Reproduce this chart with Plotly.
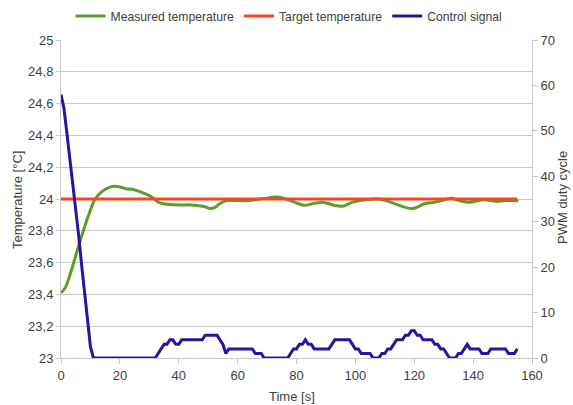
import plotly.graph_objects as go

# Measured temperature (°C)
temp_time = [0, 1.4, 3, 4.8, 6.4, 8.1, 9.8, 11.3, 13.5, 16.6, 18.3, 20, 22, 24.4, 27, 30.2, 33.6, 37, 40.3, 44, 47.1,
             48.8, 50.5, 52.2, 53.9, 56.2, 58.3, 61, 64, 67.5, 70, 73, 76.5, 79.3, 82.7, 85.5, 88.9, 92.9,
             95.7, 99.1, 103.6, 107.6, 110.4, 114.9, 118.9, 120.6, 123.4, 126.8, 129.5, 132.4, 135.3, 138.6,
             143.7, 147.7, 151.1, 154.5, 155.3]
temp_meas = [23.41, 23.44, 23.52, 23.63, 23.73, 23.83, 23.92, 23.99, 24.04, 24.075, 24.08, 24.075, 24.065, 24.06,
             24.045, 24.02, 23.975, 23.965, 23.962, 23.963, 23.958,
             23.952, 23.94, 23.945, 23.97, 23.99, 23.99, 23.99, 23.99, 24.0, 24.005, 24.012, 24.0, 23.98, 23.96,
             23.97, 23.98, 23.96, 23.955, 23.98, 23.995, 24.0, 23.99, 23.96, 23.94, 23.945, 23.97, 23.98,
             23.99, 24.005, 23.99, 23.98, 23.995, 23.985, 23.99, 23.99, 23.985]

# Target temperature (°C)
target_time = [0, 155]
target_temp = [24.0, 24.0]

# PWM control signal (duty cycle), one sample per second from t = 0 to 155
pwm_time = list(range(156))
pwm = [58, 55, 49.5, 44, 38.5, 33, 27, 20.5, 14, 8, 2.5, 0,
       0, 0, 0, 0, 0, 0, 0, 0, 0, 0, 0, 0, 0, 0, 0, 0, 0, 0, 0, 0, 0,
       1, 2, 3, 3, 4, 4, 3, 3, 4, 4, 4, 4, 4, 4, 4, 4,
       5, 5, 5, 5, 5, 4, 3, 1, 2, 2, 2, 2, 2, 2, 2, 2, 2, 1, 1, 1,
       0, 0, 0, 0, 0, 0, 0, 0, 0, 1, 2, 2, 3, 3, 4, 3, 3, 2, 2, 2, 2, 2, 2,
       3, 4, 4, 4, 4, 4, 4, 3, 2, 2, 1, 1, 1, 1, 0, 0, 0, 1, 1, 2, 2, 3,
       4, 4, 4, 5, 5, 6, 6, 5, 5, 4, 4, 4, 4, 3, 3, 2, 2, 1, 0, 0, 0,
       1, 1, 2, 3, 2, 2, 2, 2, 1, 1, 1, 2, 2, 2, 2, 2, 2, 1, 1, 1, 2]

left_ticks = [23 + 0.2 * i for i in range(11)]
right_ticks = list(range(0, 71, 10))
x_ticks = list(range(0, 161, 20))

GREEN = "#5c9e2a"
RED = "#ff4520"
BLUE = "#2b12a0"
GRID = "#c8c8c8"
TXT = "#404040"

W, H = 573, 405
L, T, R, B = 61, 40, 573 - 532, 405 - 358
PW, PH = W - L - R, H - T - B


def px_x(x):  # window x -> paper x
    return (x - L) / PW


def px_y(y):  # window y -> paper y
    return (H - B - y) / PH


fig = go.Figure()
fig.add_trace(go.Scatter(x=temp_time, y=temp_meas, mode="lines", name="Measured temperature",
                         line=dict(color=GREEN, width=3, shape="spline", smoothing=0.8)))
fig.add_trace(go.Scatter(x=target_time, y=target_temp, mode="lines", name="Target temperature",
                         line=dict(color=RED, width=3)))
fig.add_trace(go.Scatter(x=pwm_time, y=pwm, mode="lines", name="Control signal", yaxis="y2",
                         line=dict(color=BLUE, width=3)))

fig.update_layout(
    width=W, height=H,
    margin=dict(l=L, r=R, t=T, b=B, autoexpand=False),
    paper_bgcolor="white", plot_bgcolor="white",
    separators=", ",
    font=dict(family="Liberation Sans, Arial, sans-serif", size=13, color=TXT),
    showlegend=True,
    legend=dict(orientation="h", xref="container", yref="container",
                x=289 / W, xanchor="center", y=1 - 16 / H, yanchor="middle",
                font=dict(size=12.2, color=TXT), itemwidth=30, tracegroupgap=0,
                bgcolor="rgba(0,0,0,0)"),
    xaxis=dict(range=[0, 160], tickvals=x_ticks, showgrid=False, zeroline=False, automargin=False,
               showline=True, linecolor=GRID, linewidth=1, ticks="outside", ticklen=5, tickcolor=GRID,
               tickfont=dict(size=13)),
    yaxis=dict(range=[23, 25], tickvals=left_ticks, showgrid=True, gridcolor=GRID, gridwidth=1,
               zeroline=False, showline=True, linecolor=GRID, linewidth=1, automargin=False,
               ticks="outside", ticklen=4, tickcolor=GRID, tickfont=dict(size=13)),
    yaxis2=dict(range=[0, 70], tickvals=right_ticks, overlaying="y", side="right", showgrid=False,
                zeroline=False, showline=True, linecolor=GRID, linewidth=1, automargin=False,
                ticks="outside", ticklen=5, tickcolor=GRID, tickfont=dict(size=13)),
    annotations=[
        dict(text="Temperature [°C]", xref="paper", yref="paper", x=px_x(17), y=px_y(200),
             textangle=-90, showarrow=False, xanchor="center", yanchor="middle", font=dict(size=13, color=TXT)),
        dict(text="PWM duty cycle", xref="paper", yref="paper", x=px_x(562), y=px_y(198),
             textangle=-90, showarrow=False, xanchor="center", yanchor="middle", font=dict(size=13, color=TXT)),
        dict(text="Time [s]", xref="paper", yref="paper", x=px_x(292), y=px_y(396),
             showarrow=False, xanchor="center", yanchor="middle", font=dict(size=13, color=TXT)),
    ],
)

fig.write_html("out.html", config={"displayModeBar": False},
               post_script="document.body.style.margin='0';document.body.style.overflow='hidden';")
